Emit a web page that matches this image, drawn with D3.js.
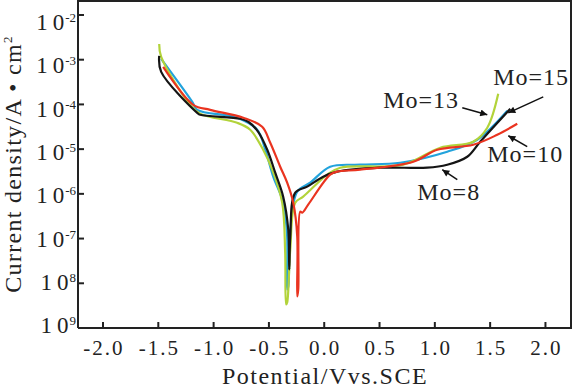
<!DOCTYPE html>
<html>
<head>
<meta charset="utf-8">
<style>
body { margin: 0; background: #fff; }
svg { display: block; font-family: "Liberation Serif", "DejaVu Serif", serif; }
</style>
</head>
<body>
<svg width="573" height="389"></svg>
<script src="https://cdn.jsdelivr.net/npm/d3@7"></script>
<script>
// polarization curves, [potential V vs SCE, log10 current density A/cm2]
var mo8 = [[-1.492,-2.915],[-1.474,-3.272],[-1.148,-4.188],[-1.121,-4.232],[-0.759,-4.321],[-0.687,-4.388],
    [-0.597,-4.612],[-0.515,-5.013],[-0.443,-5.527],[-0.371,-6.063],[-0.325,-6.799],[-0.316,-7.692],
    [-0.307,-6.955],[-0.262,-5.973],[-0.154,-5.839],[-0.009,-5.616],[0.118,-5.504],[0.506,-5.415],
    [0.931,-5.415],[1.112,-5.348],[1.293,-5.170],[1.410,-4.835],[1.682,-4.098]];
var mo10 = [[-1.456,-3.161],[-1.184,-4.009],[-1.031,-4.121],[-0.732,-4.299],[-0.561,-4.500],[-0.488,-4.857],
    [-0.398,-5.393],[-0.335,-5.750],[-0.280,-6.196],[-0.244,-6.955],[-0.244,-8.295],
    [-0.235,-8.138],[-0.217,-6.397],[-0.199,-6.420],[-0.145,-6.241],[0.054,-5.571],[0.118,-5.504],
    [0.325,-5.460],[0.805,-5.281],[1.022,-5.013],[1.347,-4.902],[1.564,-4.679],[1.745,-4.433]];
var mo13 = [[-1.492,-2.647],[-1.474,-2.938],[-1.212,-4.009],[-1.121,-4.210],[-0.787,-4.411],[-0.669,-4.567],
    [-0.552,-5.013],[-0.470,-5.460],[-0.380,-6.196],[-0.353,-7.313],[-0.344,-8.473],
    [-0.335,-8.429],[-0.307,-7.246],[-0.262,-6.196],[-0.190,-6.063],[0.027,-5.571],[0.145,-5.415],
    [0.714,-5.348],[1.049,-4.969],[1.347,-4.835],[1.474,-4.522],[1.573,-3.763]];
var mo15 = [[-1.474,-2.982],[-1.193,-3.942],[-1.148,-4.121],[-0.787,-4.299],[-0.606,-4.567],[-0.533,-5.013],
    [-0.461,-5.616],[-0.371,-6.196],[-0.335,-6.955],[-0.335,-8.138],
    [-0.325,-8.071],[-0.307,-6.799],[-0.244,-5.951],[-0.127,-5.750],[0.054,-5.393],[0.325,-5.348],
    [0.687,-5.304],[1.112,-5.058],[1.383,-4.790],[1.655,-4.143]];

var xTicks = [-2.0, -1.5, -1.0, -0.5, 0.0, 0.5, 1.0, 1.5, 2.0];
var yTicks = [-2, -3, -4, -5, -6, -7, -8, -9];
var yTickSup = ["-2", "-3", "-4", "-5", "-6", "-7", "8", "9"];

// label text, text anchor [V, logI], arrow from [V, logI] to [V, logI]
var labels = [
    {text: "Mo=15", at: [1.528, -3.5625], from: [1.980, -3.830], to: [1.664, -4.188]},
    {text: "Mo=13", at: [0.533, -4.076], from: [1.248, -4.076], to: [1.474, -4.232]},
    {text: "Mo=10", at: [1.474, -5.281], from: [1.835, -4.946], to: [1.664, -4.701]},
    {text: "Mo=8", at: [0.841, -6.129], from: [1.203, -5.683], to: [1.067, -5.460]}
];

var svg = d3.select("svg");

var x = d3.scaleLinear().domain([-2.226, 2.24]).range([78, 572]);
var y = d3.scaleLog().domain([1e-9, Math.pow(10, -1.665)]).range([328, 0]);
function py(l) { return y(Math.pow(10, l)); }

svg.append("defs").append("marker")
    .attr("id", "head")
    .attr("viewBox", "0 0 10 10")
    .attr("refX", 10).attr("refY", 5)
    .attr("markerWidth", 9).attr("markerHeight", 7)
    .attr("markerUnits", "userSpaceOnUse")
    .attr("orient", "auto")
    .append("path").attr("d", "M0,0L10,5L0,10z").attr("fill", "#111");

// curves
var line = d3.line()
    .x(d => x(d[0]))
    .y(d => py(d[1]))
    .curve(d3.curveCatmullRom.alpha(0.5));

var series = [
    {data: mo15, color: "#22a3dc"},
    {data: mo13, color: "#b2d33a"},
    {data: mo8, color: "#151515"},
    {data: mo10, color: "#ea3420"}
];

svg.append("g").selectAll("path")
    .data(series)
    .enter().append("path")
    .attr("d", d => line(d.data))
    .attr("fill", "none")
    .attr("stroke", d => d.color)
    .attr("stroke-width", 2.2)
    .attr("stroke-linejoin", "round");

// frame + axes
var frame = svg.append("g").attr("stroke", "#222").attr("stroke-width", 2).attr("fill", "none");
frame.append("path").attr("d", "M" + x.range()[0] + "," + y.range()[0] + "V1H571V" + y.range()[0] + "H" + x.range()[0]);

frame.selectAll(".xt")
    .data(xTicks)
    .enter().append("line")
    .attr("x1", d => x(d)).attr("x2", d => x(d))
    .attr("y1", 328).attr("y2", 322);

frame.selectAll(".yt")
    .data(yTicks)
    .enter().append("line")
    .attr("x1", 78).attr("x2", 84)
    .attr("y1", d => py(d)).attr("y2", d => py(d));

svg.append("g").selectAll("text")
    .data(xTicks)
    .enter().append("text")
    .attr("x", d => x(d) + 1)
    .attr("y", 355)
    .attr("text-anchor", "middle")
    .attr("font-size", 21)
    .attr("letter-spacing", 2)
    .attr("fill", "#222")
    .text(d => d.toFixed(1));

var yl = svg.append("g").selectAll("text")
    .data(yTicks)
    .enter().append("text")
    .attr("x", 76)
    .attr("y", (d, i) => py(d) + 15 - 1.4 * i)
    .attr("text-anchor", "end")
    .attr("fill", "#222");
yl.append("tspan").attr("font-size", 23).text("1");
yl.append("tspan").attr("font-size", 23).attr("dx", 5).text("0");
yl.append("tspan").attr("font-size", 13).attr("dx", 1).attr("dy", -8).text((d, i) => yTickSup[i]);

// axis titles
svg.append("text")
    .attr("x", 325).attr("y", 384)
    .attr("text-anchor", "middle")
    .attr("font-size", 24)
    .attr("letter-spacing", 1.5)
    .attr("fill", "#222")
    .text("Potential/Vvs.SCE");

var yt = svg.append("text")
    .attr("transform", "translate(21,164) rotate(-90)")
    .attr("text-anchor", "middle")
    .attr("font-size", 24)
    .attr("letter-spacing", 1.3)
    .attr("fill", "#222");
yt.append("tspan").text("Current density/A \u2022 cm");
yt.append("tspan").attr("font-size", 13).attr("dy", -9).text("2");

// annotations
var ann = svg.append("g");
ann.selectAll("line")
    .data(labels)
    .enter().append("line")
    .attr("x1", d => x(d.from[0])).attr("y1", d => py(d.from[1]))
    .attr("x2", d => x(d.to[0])).attr("y2", d => py(d.to[1]))
    .attr("stroke", "#111").attr("stroke-width", 1.5)
    .attr("marker-end", "url(#head)");
ann.selectAll("text")
    .data(labels)
    .enter().append("text")
    .attr("x", d => x(d.at[0])).attr("y", d => py(d.at[1]))
    .attr("font-size", 24)
    .attr("letter-spacing", 1)
    .attr("fill", "#222")
    .text(d => d.text);
</script>
</body>
</html>
